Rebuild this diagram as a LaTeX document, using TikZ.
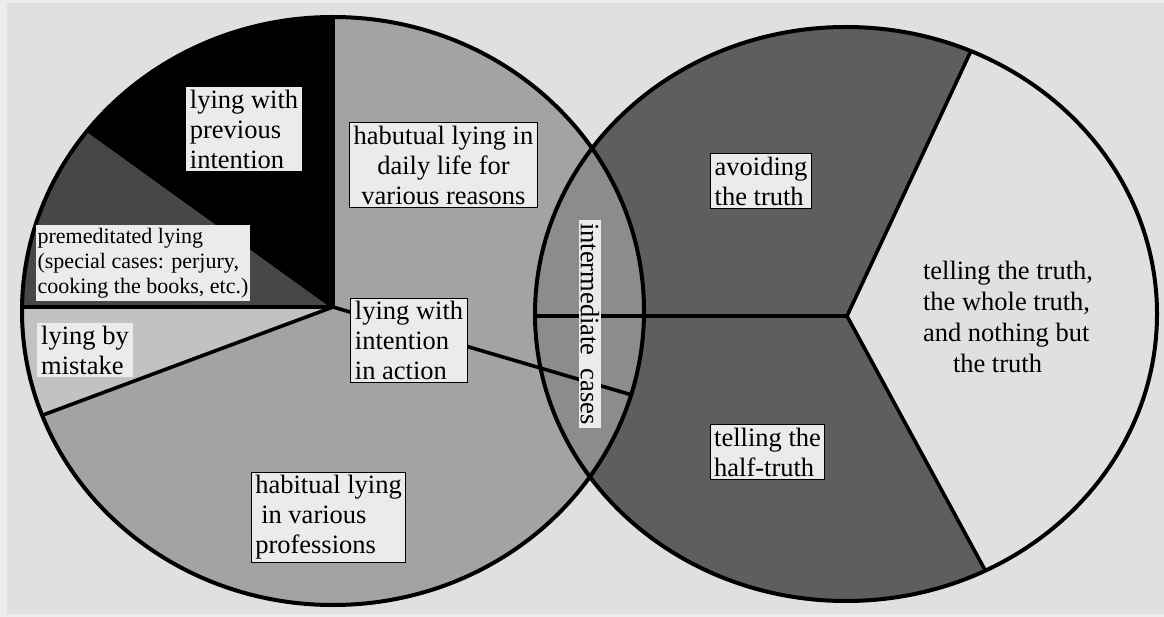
\documentclass[tikz,border=0pt]{standalone}
\usepackage{fontspec}
\setmainfont{Liberation Serif}
\definecolor{bgc}{gray}{0.88}
\definecolor{edgec}{gray}{0.93}
\definecolor{mainc}{gray}{0.64}
\definecolor{darkc}{gray}{0.28}
\definecolor{lightc}{gray}{0.76}
\definecolor{lensc}{gray}{0.55}
\definecolor{rdarkc}{gray}{0.37}
\definecolor{boxc}{gray}{0.92}
\begin{document}
\begin{tikzpicture}[x=1pt,y=-1pt,
  lbl/.style={font=\fontsize{26.5}{30}\selectfont, align=left, inner xsep=4pt, inner ysep=3pt, fill=boxc, text=black},
  bx/.style={lbl, draw=black, line width=1.2pt},
  sector/.style={line width=3.6pt, line cap=round, draw=black},
  rim/.style={line width=4pt, draw=black}]
\useasboundingbox (0,0) rectangle (1164,617);
\fill[edgec] (0,0) rectangle (1164,617);
\fill[bgc] (7,3) rectangle (1164,614);
\coordinate (A) at (333,307);
\coordinate (B) at (847,316);
% left disc
\fill[mainc] (333,311) ellipse [x radius=311, y radius=294];
\begin{scope}
  \clip (333,311) ellipse [x radius=311, y radius=294];
  \fill[black] (A) -- (333,-1000) -- (-882,-568) -- cycle;
  \fill[darkc] (A) -- (-882,-568) -- (-1000,307) -- cycle;
  \fill[lightc] (A) -- (-1000,307) -- (-827,739) -- cycle;
\end{scope}
% right disc
\fill[rdarkc] (846,314) ellipse [x radius=311, y radius=287];
\begin{scope}
  \clip (846,314) ellipse [x radius=311, y radius=287];
  \fill[bgc] (B) -- (1339,-736) -- (1399,1332) -- cycle;
  \clip (333,311) ellipse [x radius=311, y radius=294];
  \fill[lensc] (0,0) rectangle (1164,617);
\end{scope}
% sector lines
\begin{scope}
  \clip (333,311) ellipse [x radius=311, y radius=294];
  \draw[sector] (333,-1000) -- (A);
  \draw[sector] (-882,-568) -- (A);
  \draw[sector] (-1000,307) -- (A);
  \draw[sector] (-827,739) -- (A);
  \draw[sector] (A) -- (1230,571);
\end{scope}
\begin{scope}
  \clip (846,314) ellipse [x radius=311, y radius=287];
  \draw[sector] (1339,-736) -- (B);
  \draw[sector] (1399,1332) -- (B);
  \draw[sector] (B) -- (-1000,316);
\end{scope}
\draw[rim] (333,311) ellipse [x radius=311, y radius=294];
\draw[rim] (846,314) ellipse [x radius=311, y radius=287];
% labels
\node[lbl] (prev) at (244,129) {lying with\\previous\\intention};
\node[bx, align=center] (daily) at (443.5,165) {habutual lying in\\daily life for\\various reasons};
\node[lbl, font=\fontsize{22}{25}\selectfont, inner xsep=2pt] (premed) at (143,263) {premeditated lying\\(special cases: perjury,\\cooking the books, etc.)};
\node[lbl] (mistake) at (85,350) {lying by\\mistake};
\node[bx] (action) at (409,340.5) {lying with\\intention\\in action};
\node[bx] (prof) at (328.5,517.5) {habitual lying\\\hspace*{6pt}in various\\professions};
\node[lbl, rotate=-90, inner xsep=3pt, inner ysep=2pt] (inter) at (590,324) {intermediate\ \ cases};
\node[bx] (avoid) at (761,181) {avoiding\\the truth};
\node[lbl, fill=none, font=\fontsize{26.5}{31}\selectfont] (whole) at (1008,317) {telling the truth,\\the whole truth,\\and nothing but\\\hspace*{30pt}the truth};
\node[bx] (half) at (767.5,452) {telling the\\half-truth};
\end{tikzpicture}
\end{document}
